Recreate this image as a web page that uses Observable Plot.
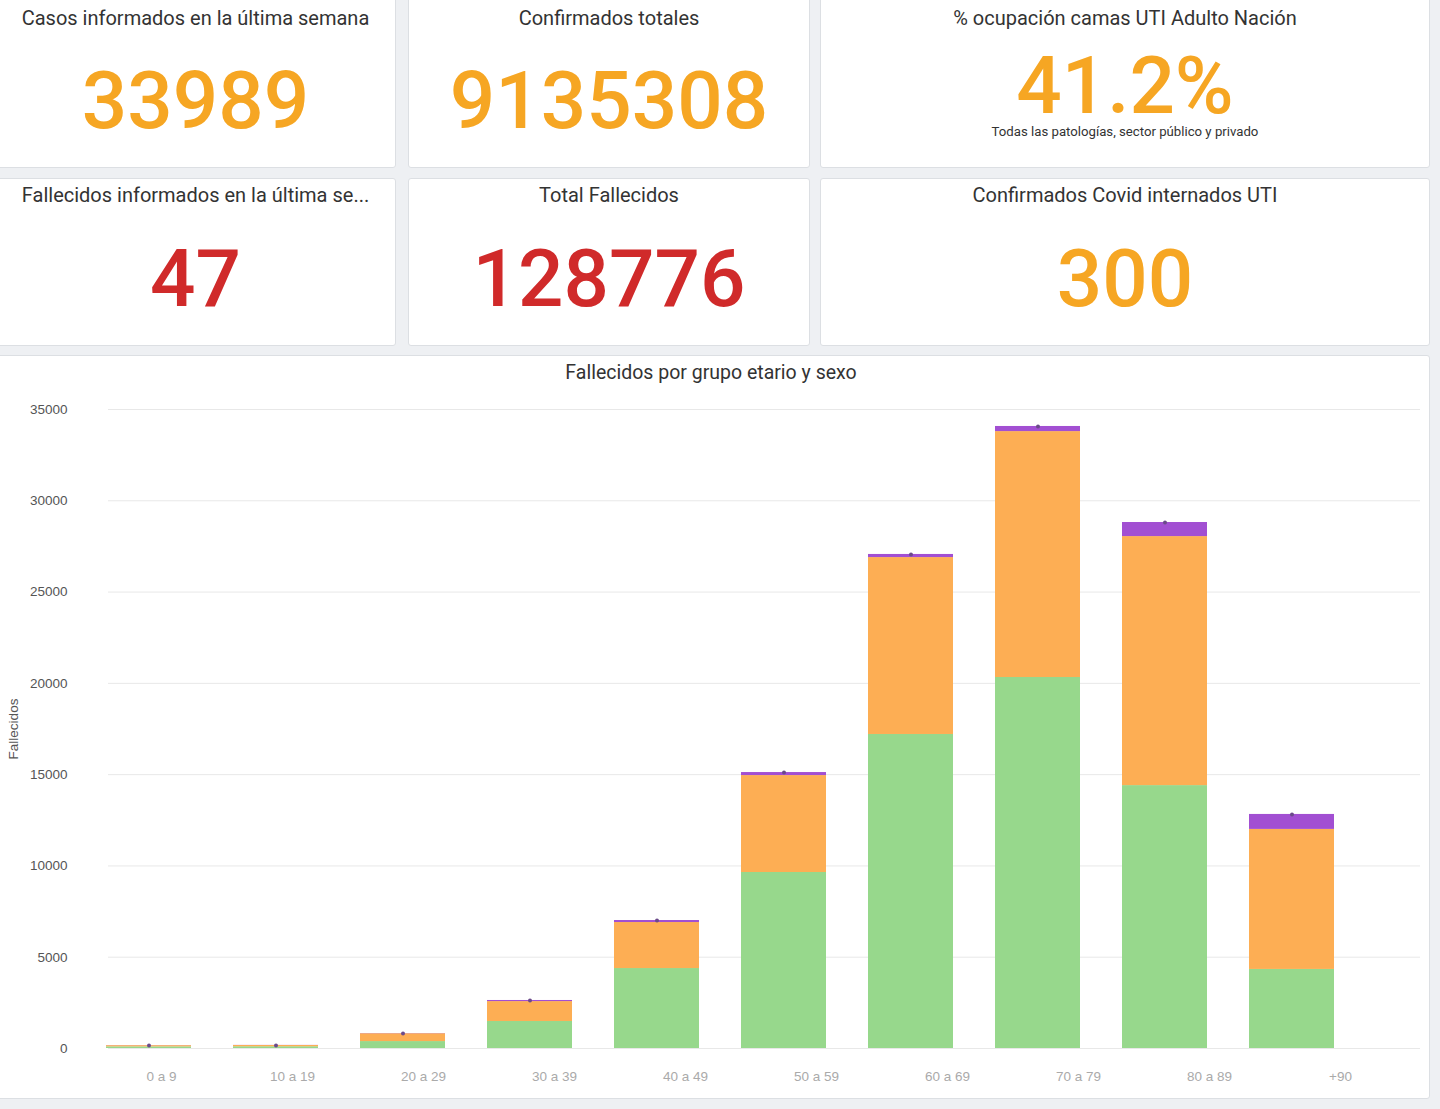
<!DOCTYPE html>
<html>
<head>
<meta charset="utf-8">
<script src="https://cdn.jsdelivr.net/npm/d3@7"></script>
<script src="https://cdn.jsdelivr.net/npm/@observablehq/plot@0.6"></script>
<style>
  html, body { margin: 0; padding: 0; }
  body { width: 1440px; height: 1109px; background: #eef0f3; position: relative; overflow: hidden; font-family: Roboto, "Noto Sans", sans-serif; }
  .card { position: absolute; background: #fff; border: 1px solid #dcdfe3; border-radius: 3px; box-sizing: border-box; }
  .t { position: absolute; left: 0; right: 0; text-align: center; font-size: 20px; line-height: 20px; color: #333; white-space: nowrap; }
  .n { position: absolute; left: 0; right: 0; text-align: center; font-size: 80px; line-height: 70px; font-weight: 500; white-space: nowrap; }
  .orange { color: #f6a623; }
  .red { color: #d02a2a; }
  .sub { position: absolute; left: 0; right: 0; text-align: center; font-size: 13.2px; line-height: 13px; color: #333; white-space: nowrap; }
  #chart { position: absolute; left: 0; top: 390px; }
  #xlabels { position: absolute; left: 0; top: 1061px; }
</style>
</head>
<body>
<div class="card" style="left:-5px;top:-4px;width:401px;height:172px;"></div>
<div class="card" style="left:408px;top:-4px;width:402px;height:172px;"></div>
<div class="card" style="left:820px;top:-4px;width:610px;height:172px;"></div>
<div class="card" style="left:-5px;top:178px;width:401px;height:168px;"></div>
<div class="card" style="left:408px;top:178px;width:402px;height:168px;"></div>
<div class="card" style="left:820px;top:178px;width:610px;height:168px;"></div>
<div class="card" style="left:-5px;top:355px;width:1435px;height:744px;"></div>

<div id="texts"></div>
<div id="chart"></div>
<div id="xlabels"></div>

<script>
// ---- data ----
const cardTitles = ["Casos informados en la última semana", "Confirmados totales", "% ocupación camas UTI Adulto Nación",
                    "Fallecidos informados en la última se...", "Total Fallecidos", "Confirmados Covid internados UTI"];
const cardValues = ["33989", "9135308", "41.2%", "47", "128776", "300"];
const cardNote = "Todas las patologías, sector público y privado";
const chartTitle = "Fallecidos por grupo etario y sexo";
const yLabel = "Fallecidos";

const grupos = ["0 a 9", "10 a 19", "20 a 29", "30 a 39", "40 a 49", "50 a 59", "60 a 69", "70 a 79", "80 a 89", "+90"];
const masculino = [90, 95, 380, 1480, 4380, 9640, 17200, 20320, 14400, 4330];
const femenino = [65, 70, 430, 1090, 2520, 5310, 9690, 13470, 13640, 7670];
const sinDato = [5, 5, 10, 60, 110, 165, 170, 280, 770, 820];
const series = ["Masculino", "Femenino", "Sin dato"];
const colors = ["#97d88c", "#fdae54", "#a24fd2"];
const yTicks = [0, 5000, 10000, 15000, 20000, 25000, 30000, 35000];

// ---- cards ----
const layout = [
  {l: -5, w: 401, t: 7.5, n: 65.6, c: "orange"},
  {l: 408, w: 402, t: 7.5, n: 65.6, c: "orange"},
  {l: 820, w: 610, t: 7.5, n: 50.6, c: "orange"},
  {l: -5, w: 401, t: 185, n: 243.6, c: "red"},
  {l: 408, w: 402, t: 185, n: 243.6, c: "red"},
  {l: 820, w: 610, t: 185, n: 243.6, c: "orange"}
];
const tx = document.getElementById("texts");
layout.forEach((p, i) => {
  const box = document.createElement("div");
  box.style.cssText = `position:absolute;left:${p.l}px;top:0;width:${p.w}px;height:360px;`;
  box.innerHTML = `<div class="t" style="top:${p.t}px">${cardTitles[i]}</div>` +
                  `<div class="n ${p.c}" style="top:${p.n}px">${cardValues[i]}</div>` +
                  (i === 2 ? `<div class="sub" style="top:125px">${cardNote}</div>` : "");
  tx.appendChild(box);
});
const ct = document.createElement("div");
ct.style.cssText = "position:absolute;left:0;width:1422px;top:363px;text-align:center;font-size:19.5px;line-height:19.5px;color:#333;";
ct.textContent = chartTitle;
tx.appendChild(ct);

// ---- chart ----
const rows = [];
grupos.forEach((g, i) => {
  rows.push({grupo: g, sexo: series[0], v: masculino[i]});
  rows.push({grupo: g, sexo: series[1], v: femenino[i]});
  rows.push({grupo: g, sexo: series[2], v: sinDato[i]});
});
const totals = grupos.map((g, i) => ({grupo: g, total: masculino[i] + femenino[i] + sinDato[i]}));

const chart = Plot.plot({
  width: 1440,
  height: 700,
  marginLeft: 108,
  marginRight: 20,
  marginTop: 19,
  marginBottom: 42,
  style: {fontFamily: "'Liberation Sans', Arial, sans-serif", background: "transparent"},
  x: {domain: grupos, range: [105, 1335], paddingInner: 0.33, paddingOuter: 0, axis: null},
  y: {domain: [0, 35000], ticks: yTicks},
  color: {domain: series, range: colors},
  marks: [
    Plot.gridY(yTicks, {stroke: "#e8e8e8", strokeOpacity: 1}),
    Plot.barY(rows, {x: "grupo", y: "v", fill: "sexo"}),
    Plot.dot(totals, {x: "grupo", y: "total", r: 2, fill: "#6b4a8a"}),
    Plot.axisY(yTicks, {tickSize: 0, tickPadding: 41, fontSize: 13.5, fill: "#555", tickFormat: d => String(d), label: yLabel, labelAnchor: "center", labelOffset: 100, labelArrow: "none"})
  ]
});
document.getElementById("chart").appendChild(chart);

// category labels (the source dashboard spaces them slightly wider than the bars)
const xl = Plot.plot({
  width: 1440,
  height: 30,
  margin: 0,
  style: {fontFamily: "'Liberation Sans', Arial, sans-serif", background: "transparent"},
  x: {type: "point", domain: grupos, range: [158.5, 1342], padding: 0, axis: null},
  marks: [
    Plot.text(grupos, {x: d => d, frameAnchor: "middle", fontSize: 13.5, fill: "#aaa"})
  ]
});
document.getElementById("xlabels").appendChild(xl);
</script>
</body>
</html>
